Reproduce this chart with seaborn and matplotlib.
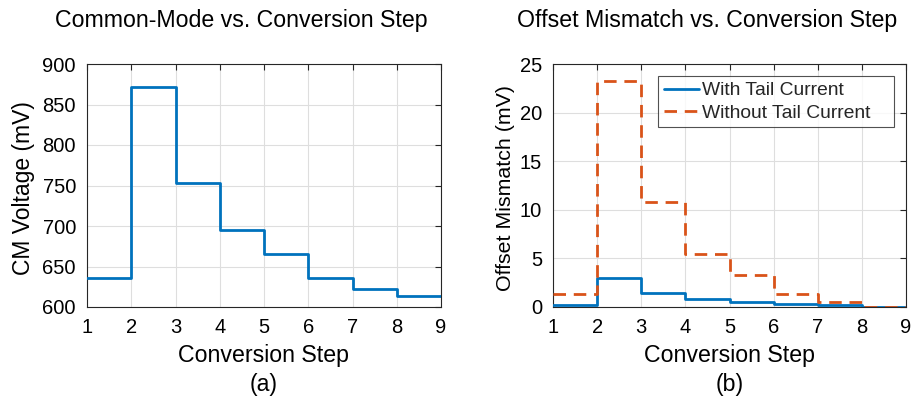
import numpy as np
import pandas as pd
import matplotlib
matplotlib.use("Agg")
import matplotlib.pyplot as plt
import seaborn as sns

# Conversion steps and per-step values (last value repeated so the final step reaches x=9)
steps = [1, 2, 3, 4, 5, 6, 7, 8, 9]
cm_voltage = [636, 871, 753, 695, 666, 636, 622, 614, 614]
offset_with_tail = [0.2, 2.95, 1.45, 0.8, 0.55, 0.3, 0.2, 0.05, 0.05]
offset_without_tail = [1.3, 23.3, 10.8, 5.5, 3.3, 1.35, 0.5, 0.05, 0.05]

x_ticks = [1, 2, 3, 4, 5, 6, 7, 8, 9]
cm_ticks = [600, 650, 700, 750, 800, 850, 900]
off_ticks = [0, 5, 10, 15, 20, 25]

BLUE = "#0072BD"
ORANGE = "#D95319"

sns.set_theme(style="white")
plt.rcParams["font.family"] = ["Liberation Sans", "DejaVu Sans"]

fig = plt.figure(figsize=(9.11, 3.99), dpi=100)
ax1 = fig.add_axes([87 / 911, 92 / 399, 354 / 911, 243 / 399])
ax2 = fig.add_axes([553 / 911, 92 / 399, 353 / 911, 243 / 399])

df_cm = pd.DataFrame({"step": steps, "cm": cm_voltage})
sns.lineplot(data=df_cm, x="step", y="cm", ax=ax1, color=BLUE, lw=2.0,
             drawstyle="steps-post", zorder=3)

df_off = pd.DataFrame({
    "step": steps * 2,
    "offset": offset_with_tail + offset_without_tail,
    "case": ["With Tail Current"] * len(steps) + ["Without Tail Current"] * len(steps),
})
sns.lineplot(data=df_off, x="step", y="offset", hue="case", style="case",
             palette=[BLUE, ORANGE], dashes=["", (4.5, 2.8)], ax=ax2, lw=2.0,
             drawstyle="steps-post", zorder=3)

def style_axes(ax, yticks, ylim, ylabel, ylabel_x, ylabel_size, title, tag):
    ax.set_xlim(1, 9)
    ax.set_ylim(*ylim)
    ax.set_xticks(x_ticks)
    ax.set_yticks(yticks)
    ax.grid(True, color="#dedede", lw=0.8, zorder=0)
    ax.tick_params(direction="in", top=True, right=True, length=4, width=0.8,
                   colors="#262626", labelsize=14.5, labelcolor="black", pad=8)
    for s in ax.spines.values():
        s.set_color("#262626")
        s.set_linewidth(0.8)
        s.set_visible(True)
    ax.set_xlabel("Conversion Step", fontsize=16.7, color="black", labelpad=5)
    ax.set_ylabel(ylabel, fontsize=ylabel_size, color="black")
    ax.yaxis.set_label_coords(ylabel_x, 0.49)
    ax.set_title(title, fontsize=16.7, color="black", pad=27, x=0.436)
    ax.text(0.5, -0.317, tag, transform=ax.transAxes, ha="center", va="center",
            fontsize=16.7, color="black")

style_axes(ax1, cm_ticks, (600, 900), "CM Voltage (mV)", -0.147, 16.5,
           "Common-Mode vs. Conversion Step", "(a)")
style_axes(ax2, off_ticks, (0, 25), "Offset Mismatch (mV)", -0.108, 15.4,
           "Offset Mismatch vs. Conversion Step", "(b)")

leg = ax2.legend(loc="upper left", bbox_to_anchor=(0.2975, 0.0, 0.6685, 0.9506),
                 mode="expand", borderaxespad=0.0, fontsize=13.9, frameon=True,
                 fancybox=False, edgecolor="#262626", borderpad=0.3,
                 handlelength=1.8, handletextpad=0.2, labelspacing=0.25)
leg.get_frame().set_linewidth(0.8)
leg.set_title(None)

fig.savefig("out.png", dpi=100, facecolor="white")
